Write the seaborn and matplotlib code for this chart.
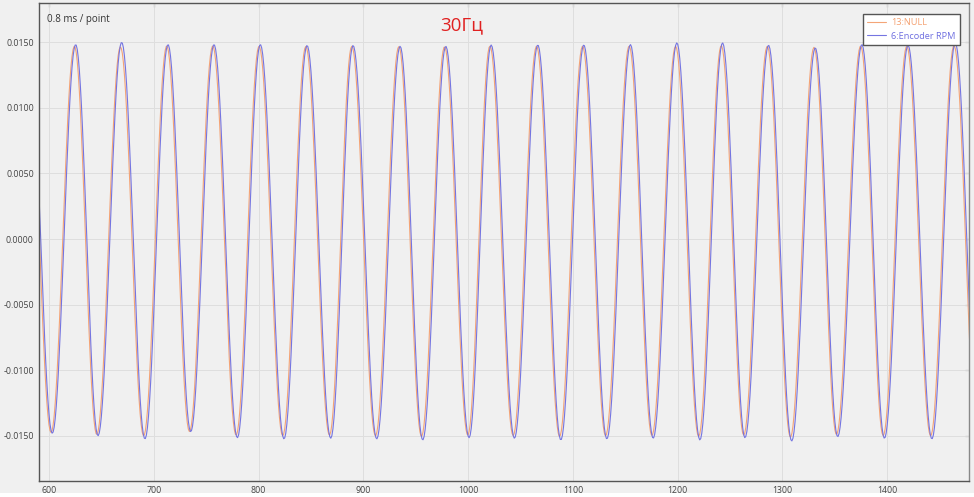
import numpy as np
import pandas as pd
import matplotlib
matplotlib.use("Agg")
import matplotlib.pyplot as plt
import seaborn as sns

# extrema (sample index, value); first peak / last trough sit just outside the view
peak_x = [581.0, 625.5, 669.4, 713.6, 757.5, 801.7, 846.3, 890.2, 935.1, 978.7, 1022.0,
          1066.5, 1110.4, 1154.9, 1199.2, 1242.8, 1286.7, 1331.3, 1375.8, 1419.8, 1464.9]
trough_x = [603.2, 646.8, 691.6, 735.3, 779.8, 824.3, 868.9, 912.8, 956.7, 1000.9,
            1044.2, 1088.5, 1132.4, 1176.6, 1221.2, 1264.2, 1308.8, 1352.7, 1397.3, 1442.6, 1487.0]

rpm_peaks = [0.01480, 0.01483, 0.01500, 0.01483, 0.01483, 0.01483, 0.01476, 0.01476, 0.01470, 0.01470,
             0.01480, 0.01480, 0.01480, 0.01483, 0.01496, 0.01496, 0.01478, 0.01458, 0.01483, 0.01478, 0.01496]
rpm_troughs = [-0.01481, -0.01500, -0.01524, -0.01469, -0.01515, -0.01524, -0.01519, -0.01524, -0.01532, -0.01515,
               -0.01519, -0.01532, -0.01524, -0.01519, -0.01532, -0.01515, -0.01540, -0.01507, -0.01519, -0.01524, -0.01520]

null_peaks = [0.01470, 0.01470, 0.01465, 0.01472, 0.01472, 0.01470, 0.01468, 0.01470, 0.01468, 0.01466,
              0.01472, 0.01470, 0.01470, 0.01472, 0.01470, 0.01475, 0.01470, 0.01462, 0.01472, 0.01470, 0.01475]
null_troughs = [-0.01475, -0.01490, -0.01500, -0.01468, -0.01495, -0.01500, -0.01495, -0.01500, -0.01505, -0.01495,
                -0.01498, -0.01505, -0.01500, -0.01498, -0.01505, -0.01495, -0.01510, -0.01490, -0.01498, -0.01500, -0.01500]
null_lead = 1.2  # orange trace runs slightly ahead of the blue one

series_names = ["13:NULL", "6:Encoder RPM"]
series_colors = ["#f4a070", "#6e6ee0"]
x_ticks = [600, 700, 800, 900, 1000, 1100, 1200, 1300, 1400]
y_ticks = [-0.015, -0.010, -0.005, 0.0, 0.005, 0.010, 0.015]
samples = np.arange(588, 1481)


def trace(px, pv, tx, tv, shift):
    """Join the read extrema with half-cosine segments, sampled once per point."""
    ext = sorted(list(zip([p - shift for p in px], pv)) + list(zip([t - shift for t in tx], tv)))
    et = np.array([e[0] for e in ext])
    ev = np.array([e[1] for e in ext])
    idx = np.clip(np.searchsorted(et, samples) - 1, 0, len(et) - 2)
    t0, t1 = et[idx], et[idx + 1]
    v0, v1 = ev[idx], ev[idx + 1]
    f = (1 - np.cos(np.pi * (samples - t0) / (t1 - t0))) / 2
    return v0 + (v1 - v0) * f


df = pd.concat([
    pd.DataFrame({"x": samples, "y": trace(peak_x, null_peaks, trough_x, null_troughs, null_lead),
                  "series": series_names[0]}),
    pd.DataFrame({"x": samples, "y": trace(peak_x, rpm_peaks, trough_x, rpm_troughs, 0.0),
                  "series": series_names[1]}),
])

sns.set_style("white")
plt.rcParams["font.family"] = ["Open Sans", "DejaVu Sans"]

fig = plt.figure(figsize=(9.74, 4.97), dpi=100, facecolor="#f0f0f0")
ax = fig.add_axes([39 / 974, 1 - 481 / 497, 930 / 974, 478 / 497])
ax.set_facecolor("#f0f0f0")
fig.patches.append(plt.Rectangle((0, 0), 1, 4 / 497, transform=fig.transFigure,
                                 facecolor="white", edgecolor="none", zorder=-1))

sns.lineplot(data=df, x="x", y="y", hue="series", palette=series_colors, hue_order=series_names,
             estimator=None, sort=False, linewidth=0.8, alpha=0.95, ax=ax)

ax.set_xlim(590.5, 1478)
ax.set_ylim(-0.01845, 0.0180)
ax.set_xticks(x_ticks)
ax.set_yticks(y_ticks)
ax.set_xticklabels([str(t) for t in x_ticks])
ax.set_yticklabels([f"{t:.4f}" for t in y_ticks])
ax.set_xlabel("")
ax.set_ylabel("")
ax.grid(True, color="#dedede", linewidth=0.7)
ax.set_axisbelow(True)
ax.tick_params(axis="both", labelsize=6.3, labelcolor="#444444", color="#444444",
               length=2.5, width=0.8, direction="out", pad=1.2)
for s in ax.spines.values():
    s.set_color("#555555")
    s.set_linewidth(1.0)
ax.spines["right"].set_color("#888888")

# inward ticks on the top and right frame
top = ax.secondary_xaxis("top")
top.set_xticks(x_ticks)
top.tick_params(direction="in", length=3, width=0.8, color="#444444", labeltop=False)
top.spines["top"].set_visible(False)
right = ax.secondary_yaxis("right")
right.set_yticks(y_ticks)
right.tick_params(direction="in", length=3, width=0.8, color="#666666", labelright=False)
right.spines["right"].set_visible(False)

ax.text(0.009, 0.978, "0.8 ms / point", transform=ax.transAxes, fontsize=7,
        color="#333333", ha="left", va="top")
fig.text(462 / 974, 1 - 25 / 497, "30Гц", fontsize=13.5, color="#e02020", ha="center", va="center")

leg = ax.legend(loc="upper right", fontsize=6.6, frameon=True, fancybox=False, framealpha=1,
                edgecolor="#555555", facecolor="white", handlelength=2.0, borderpad=0.5,
                labelspacing=0.45, handletextpad=0.6, bbox_to_anchor=(0.9955, 0.987))
for txt, c in zip(leg.get_texts(), series_colors):
    txt.set_color(c)

fig.savefig("out.png", dpi=100, facecolor=fig.get_facecolor())
